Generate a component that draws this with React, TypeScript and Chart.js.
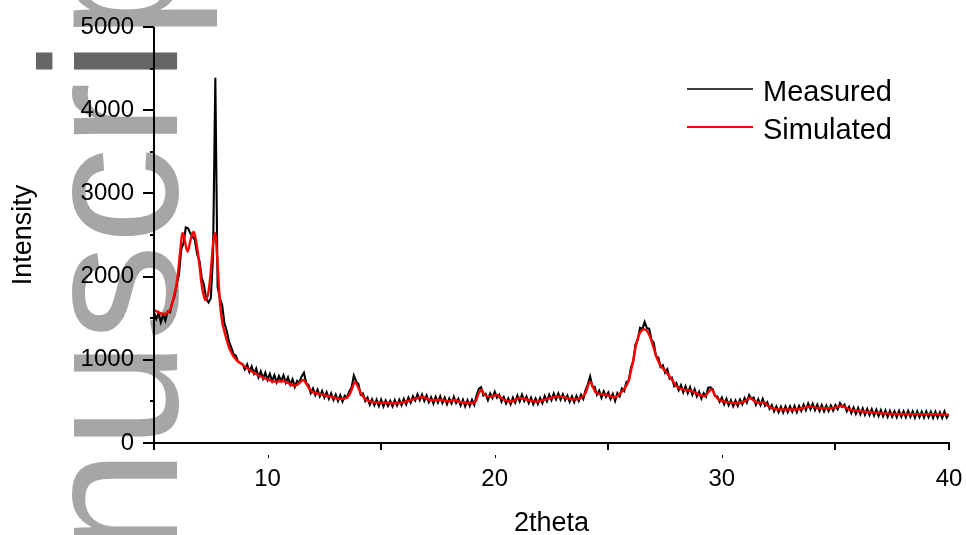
import React, { useEffect, useRef } from 'react';
import { Chart, registerables } from 'chart.js';

Chart.register(...registerables);

const FONT = '"Liberation Sans", Arial, Helvetica, sans-serif';

// ---- data ----
const seriesNames = ['Measured', 'Simulated'];
const xLabelValues = [10, 20, 30, 40];
const yLabelValues = [0, 1000, 2000, 3000, 4000, 5000];
const xTitle = '2theta';
const yTitle = 'Intensity';
const watermarkParts = ['nuscr', 'i', 'pt'];

// Measured pattern, 2theta from 5.0 to 40.0 every 0.1
const measuredStart = 5.0;
const measuredStep = 0.1;
const measured = [
  1570, 1490, 1560, 1450, 1540, 1470, 1580, 1570, 1680, 1760,
  1900, 2030, 2330, 2400, 2590, 2580, 2520, 2480, 2440, 2270,
  2190, 1990, 1900, 1730, 1690, 1740, 2250, 4390, 1880, 1740,
  1660, 1440, 1350, 1220, 1150, 1070, 1050, 980, 960, 950,
  885, 945, 855, 920, 835, 895, 790, 860, 775, 845,
  760, 830, 745, 815, 730, 805, 745, 815, 725, 790,
  700, 765, 675, 745, 725, 800, 845, 720, 700, 600,
  655, 575, 640, 560, 625, 545, 610, 530, 595, 515,
  580, 505, 575, 500, 570, 550, 620, 670, 810, 740,
  710, 580, 595, 505, 545, 460, 525, 455, 520, 445,
  520, 440, 510, 445, 505, 440, 515, 450, 520, 455,
  530, 465, 545, 485, 560, 510, 585, 515, 580, 505,
  570, 490, 550, 475, 555, 485, 560, 480, 545, 465,
  535, 475, 555, 480, 530, 450, 520, 440, 515, 445,
  520, 460, 570, 650, 670, 570, 590, 515, 595, 540,
  615, 545, 580, 495, 550, 475, 535, 465, 545, 485,
  570, 500, 580, 505, 560, 480, 545, 465, 535, 470,
  540, 480, 565, 500, 580, 515, 595, 525, 595, 520,
  585, 515, 570, 495, 560, 490, 565, 505, 580, 530,
  635, 705, 800, 680, 675, 580, 630, 545, 620, 555,
  605, 530, 590, 505, 600, 560, 655, 625, 735, 750,
  910, 980, 1185, 1240, 1385, 1370, 1455, 1380, 1375, 1240,
  1205, 1045, 1025, 915, 935, 845, 885, 775, 785, 685,
  720, 635, 695, 610, 680, 600, 670, 580, 645, 560,
  615, 535, 600, 560, 665, 670, 645, 565, 560, 495,
  545, 465, 530, 455, 515, 440, 510, 445, 520, 465,
  540, 485, 575, 530, 545, 460, 525, 455, 530, 450,
  490, 410, 455, 380, 440, 370, 435, 365, 440, 370,
  440, 375, 445, 370, 445, 385, 460, 395, 475, 405,
  470, 395, 460, 385, 455, 380, 450, 385, 450, 390,
  455, 405, 480, 435, 460, 380, 435, 360, 425, 350,
  420, 345, 415, 340, 410, 335, 405, 330, 400, 325,
  395, 320, 390, 315, 385, 315, 380, 310, 385, 315,
  380, 310, 385, 315, 380, 305, 380, 310, 375, 305,
  380, 310, 375, 300, 375, 305, 370, 300, 380, 305,
  350,
];

// Simulated pattern: [2theta, intensity]
const simulated: [number, number][] = [
  [5.0, 1600], [5.2, 1570], [5.4, 1550], [5.6, 1565], [5.7, 1600], [5.8, 1680],
  [5.9, 1790], [6.0, 1920], [6.1, 2160], [6.2, 2430], [6.25, 2525], [6.3, 2505],
  [6.4, 2370], [6.48, 2300], [6.6, 2430], [6.7, 2525], [6.75, 2536], [6.8, 2500],
  [6.9, 2350], [7.0, 2140], [7.1, 1900], [7.2, 1760], [7.27, 1720], [7.4, 1820],
  [7.5, 2060], [7.6, 2390], [7.69, 2525], [7.8, 2150], [7.9, 1700], [8.0, 1460],
  [8.1, 1340], [8.2, 1240], [8.3, 1150], [8.4, 1090], [8.5, 1040], [8.6, 1005],
  [8.8, 960], [9.0, 920], [9.2, 880], [9.4, 845], [9.6, 815], [9.8, 785],
  [10.0, 765], [10.2, 745], [10.4, 738], [10.69, 745], [11.0, 710], [11.15, 690],
  [11.3, 698], [11.45, 735], [11.57, 757], [11.7, 715], [11.85, 650], [12.0, 610],
  [12.3, 590], [12.6, 568], [12.9, 548], [13.2, 530], [13.45, 540], [13.6, 580],
  [13.7, 640], [13.85, 735], [14.0, 660], [14.15, 580], [14.35, 520], [14.6, 495],
  [15.0, 485], [15.5, 478], [16.0, 490], [16.4, 525], [16.8, 552], [17.2, 515],
  [17.6, 520], [18.0, 500], [18.2, 517], [18.5, 490], [19.0, 480], [19.15, 495],
  [19.3, 600], [19.42, 637], [19.55, 580], [19.8, 557], [20.1, 577], [20.4, 520],
  [20.7, 497], [21.1, 540], [21.5, 515], [21.85, 497], [22.3, 530], [22.8, 560],
  [23.2, 540], [23.5, 522], [23.8, 545], [24.0, 600], [24.1, 680], [24.2, 737],
  [24.3, 690], [24.45, 605], [24.65, 590], [24.95, 577], [25.3, 549], [25.5, 590],
  [25.7, 650], [25.88, 737], [26.0, 870], [26.1, 998], [26.2, 1150], [26.32, 1278],
  [26.45, 1345], [26.58, 1366], [26.7, 1350], [26.85, 1270], [26.98, 1157], [27.1, 1050],
  [27.28, 938], [27.5, 870], [27.7, 800], [27.86, 737], [28.0, 680], [28.3, 645],
  [28.7, 620], [29.0, 580], [29.25, 565], [29.4, 610], [29.55, 645], [29.7, 570],
  [29.9, 517], [30.2, 495], [30.6, 477], [31.0, 500], [31.24, 540], [31.45, 500],
  [31.65, 481], [31.85, 490], [32.0, 455], [32.3, 410], [32.8, 403], [33.3, 405],
  [33.88, 437], [34.3, 420], [34.8, 417], [35.28, 445], [35.6, 405], [36.0, 385],
  [36.8, 365], [37.7, 349], [38.5, 347], [39.2, 345], [40.0, 338],
];

const measuredPoints = measured.map((y, i) => ({ x: +(measuredStart + i * measuredStep).toFixed(2), y }));
const simulatedPoints = simulated.map(([x, y]) => ({ x, y }));

// ---- plugins ----
const backgroundPlugin = {
  id: 'bgWatermark',
  beforeDraw(chart: any) {
    const { ctx, width, height } = chart;
    ctx.save();
    ctx.fillStyle = '#ffffff';
    ctx.fillRect(0, 0, width, height);
    ctx.translate(177, 557);
    ctx.rotate(-Math.PI / 2);
    ctx.font = `194px ${FONT}`;
    ctx.textBaseline = 'alphabetic';
    let off = 0;
    const colors = ['#a6a6a6', '#666666', '#a6a6a6'];
    watermarkParts.forEach((p, i) => {
      ctx.fillStyle = colors[i];
      ctx.fillText(p, off, 0);
      off += ctx.measureText(p).width;
    });
    ctx.restore();
  },
};

const axesPlugin = {
  id: 'originAxes',
  afterDraw(chart: any) {
    const { ctx, chartArea: a, scales } = chart;
    const xs = scales.x;
    const ys = scales.y;
    ctx.save();
    ctx.strokeStyle = '#000';
    ctx.lineWidth = 2;
    ctx.beginPath();
    ctx.moveTo(a.left, a.top);
    ctx.lineTo(a.left, a.bottom + 1);
    ctx.moveTo(a.left - 1, a.bottom);
    ctx.lineTo(a.right + 1, a.bottom);
    ys.ticks.forEach((t: any) => {
      const py = Math.round(ys.getPixelForValue(t.value));
      const len = yLabelValues.includes(t.value) ? 11 : 4;
      ctx.moveTo(a.left - len, py);
      ctx.lineTo(a.left, py);
    });
    xs.ticks.forEach((t: any) => {
      const px = Math.round(xs.getPixelForValue(t.value));
      if (xLabelValues.includes(t.value) && t.value !== 40) return;
      ctx.moveTo(px, a.bottom);
      ctx.lineTo(px, a.bottom + 7);
    });
    ctx.stroke();
    ctx.lineWidth = 1;
    ctx.beginPath();
    xs.ticks.forEach((t: any) => {
      if (!xLabelValues.includes(t.value) || t.value === 40) return;
      const px = Math.round(xs.getPixelForValue(t.value)) + 0.5;
      ctx.moveTo(px, a.bottom + 12);
      ctx.lineTo(px, a.bottom + 15);
    });
    ctx.stroke();
    ctx.restore();
  },
};

const legendPlugin = {
  id: 'innerLegend',
  afterDraw(chart: any) {
    const { ctx } = chart;
    ctx.save();
    ctx.font = `29px ${FONT}`;
    ctx.textBaseline = 'alphabetic';
    chart.data.datasets.forEach((ds: any, i: number) => {
      const y = 89 + i * 38;
      ctx.strokeStyle = ds.borderColor;
      ctx.lineWidth = i === 0 ? 1.5 : 2;
      ctx.beginPath();
      ctx.moveTo(687, y);
      ctx.lineTo(753, y);
      ctx.stroke();
      ctx.fillStyle = '#000';
      ctx.fillText(ds.label, 763, y + 12);
    });
    ctx.restore();
  },
};

export default function App() {
  const ref = useRef<HTMLCanvasElement>(null);
  useEffect(() => {
    document.body.style.margin = '0';
    const chart = new Chart(ref.current as HTMLCanvasElement, {
      type: 'line',
      data: {
        datasets: [
          {
            label: seriesNames[0],
            data: measuredPoints,
            borderColor: '#000000',
            borderWidth: 2.1,
            pointRadius: 0,
            tension: 0,
            order: 2,
          },
          {
            label: seriesNames[1],
            data: simulatedPoints,
            borderColor: '#ff0000',
            borderWidth: 2.4,
            pointRadius: 0,
            cubicInterpolationMode: 'monotone',
            order: 1,
          },
        ],
      },
      options: {
        animation: false,
        responsive: false,
        events: [],
        layout: { padding: { left: 0, top: 27, right: 17, bottom: 0 } },
        plugins: { legend: { display: false }, tooltip: { enabled: false } },
        scales: {
          x: {
            type: 'linear',
            min: 5,
            max: 40,
            afterFit: (s: any) => { s.height = 92; s.paddingLeft = 0; s.paddingRight = 0; },
            grid: { display: false, drawTicks: true, tickLength: 7 },
            border: { display: false },
            ticks: {
              stepSize: 5,
              autoSkip: false,
              maxRotation: 0,
              padding: 15,
              color: '#000',
              font: { family: FONT, size: 24 },
              callback: (v: any) => (xLabelValues.includes(Number(v)) ? String(v) : ''),
            },
            title: {
              display: true,
              text: xTitle,
              color: '#000',
              font: { family: FONT, size: 27, lineHeight: 0.85 },
              padding: { top: 0, bottom: 0 },
            },
          },
          y: {
            type: 'linear',
            min: 0,
            max: 5000,
            afterFit: (s: any) => { s.width = 154; s.paddingTop = 0; s.paddingBottom = 0; },
            grid: { display: false, drawTicks: true, tickLength: 11 },
            border: { display: false },
            ticks: {
              stepSize: 500,
              autoSkip: false,
              padding: 9,
              color: '#000',
              font: { family: FONT, size: 24 },
              callback: (v: any) => (yLabelValues.includes(Number(v)) ? String(v) : ''),
            },
            title: {
              display: true,
              text: yTitle,
              color: '#000',
              font: { family: FONT, size: 27, lineHeight: 1 },
              padding: { top: 10, bottom: 0 },
            },
          },
        },
      },
      plugins: [backgroundPlugin, axesPlugin, legendPlugin],
    } as any);
    return () => chart.destroy();
  }, []);
  return (
    <div style={{ position: 'fixed', left: 0, top: 0, width: 966, height: 535 }}>
      <canvas ref={ref} width={966} height={535} style={{ display: 'block', width: 966, height: 535 }} />
    </div>
  );
}
